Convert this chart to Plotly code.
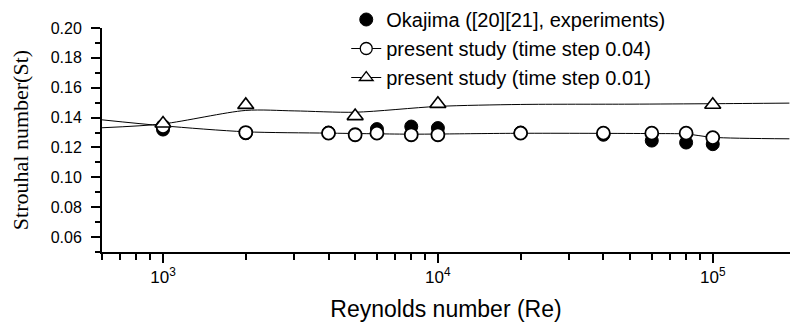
import plotly.graph_objects as go

# Okajima experiments (filled circles)
exp_re = [1000, 2000, 4000, 6000, 8000, 10000, 20000, 40000, 60000, 80000, 100000]
exp_st = [0.1320, 0.1295, 0.1300, 0.1323, 0.1340, 0.1330, 0.1300, 0.1285, 0.1246, 0.1233, 0.1222]

# present study, time step 0.04 (open circles)
s04_re = [1000, 2000, 4000, 5000, 6000, 8000, 10000, 20000, 40000, 60000, 80000, 100000]
s04_st = [0.1340, 0.1300, 0.1296, 0.1285, 0.1296, 0.1285, 0.1285, 0.1296, 0.1296, 0.1296, 0.1296, 0.1266]

# present study, time step 0.01 (open triangles)
s01_re = [1000, 2000, 5000, 10000, 100000]
s01_st = [0.1360, 0.1485, 0.1410, 0.1492, 0.1486]

# fitted curves
fit04_re = [600, 1000, 2000, 4000, 8000, 10000, 20000, 60000, 80000, 100000, 190000]
fit04_st = [0.1385, 0.1345, 0.1305, 0.1296, 0.1289, 0.1290, 0.1295, 0.1293, 0.1290, 0.1268, 0.1258]
fit01_re = [600, 1000, 2000, 3000, 5000, 10000, 20000, 50000, 100000, 190000]
fit01_st = [0.1332, 0.1358, 0.1448, 0.1445, 0.1436, 0.1475, 0.1488, 0.1490, 0.1493, 0.1497]

x_tickvals = [1e3, 1e4, 1e5]
x_ticktext = ["10<sup>3</sup>", "10<sup>4</sup>", "10<sup>5</sup>"]
y_tickvals = [0.06, 0.08, 0.10, 0.12, 0.14, 0.16, 0.18, 0.20]

fig = go.Figure()

fig.add_trace(go.Scatter(x=fit04_re, y=fit04_st, mode="lines",
                         line=dict(color="black", width=1, shape="spline", smoothing=0.8),
                         showlegend=False, hoverinfo="skip"))
fig.add_trace(go.Scatter(x=fit01_re, y=fit01_st, mode="lines",
                         line=dict(color="black", width=1, shape="spline", smoothing=0.8),
                         showlegend=False, hoverinfo="skip"))

fig.add_trace(go.Scatter(x=exp_re, y=exp_st, mode="markers",
                         name="Okajima ([20][21], experiments)",
                         marker=dict(symbol="circle", size=13, color="black",
                                     line=dict(color="black", width=1))))
fig.add_trace(go.Scatter(x=s04_re, y=s04_st, mode="markers", showlegend=False,
                         marker=dict(symbol="circle", size=13, color="white",
                                     line=dict(color="black", width=1.8))))
fig.add_trace(go.Scatter(x=s01_re, y=s01_st, mode="markers", showlegend=False,
                         marker=dict(symbol="triangle-up", size=14, color="white",
                                     line=dict(color="black", width=1.6))))

# legend entries
fig.add_trace(go.Scatter(x=[None], y=[None], mode="lines+markers",
                         name="present study (time step 0.04)",
                         line=dict(color="black", width=1),
                         marker=dict(symbol="circle", size=12, color="white",
                                     line=dict(color="black", width=1.3))))
fig.add_trace(go.Scatter(x=[None], y=[None], mode="lines+markers",
                         name="present study (time step 0.01)",
                         line=dict(color="black", width=1),
                         marker=dict(symbol="triangle-up", size=12, color="white",
                                     line=dict(color="black", width=1.3))))

fig.update_layout(
    width=790, height=323,
    margin=dict(l=102, r=0, t=28, b=71),
    paper_bgcolor="white", plot_bgcolor="white",
    font=dict(family="Liberation Sans, Arial, sans-serif", size=16, color="black"),
    legend=dict(x=0.355, y=1.125, xanchor="left", yanchor="top",
                bgcolor="rgba(0,0,0,0)", font=dict(size=20), tracegroupgap=0),
    showlegend=True,
)

fig.update_xaxes(
    type="log", range=[2.778, 5.281],
    tickvals=x_tickvals, ticktext=x_ticktext,
    ticks="outside", ticklen=9, tickwidth=1.5, tickcolor="black",
    showline=True, linecolor="black", linewidth=2,
    showgrid=False, zeroline=False,
    minor=dict(ticks="outside", ticklen=6, tickwidth=1.5, tickcolor="black",
               dtick="D1", showgrid=False),
    tickfont=dict(size=17),
    title=dict(text="Reynolds number (Re)", font=dict(size=23), standoff=14),
)
fig.update_yaxes(
    range=[0.05, 0.20],
    tickvals=y_tickvals, tickformat=".2f",
    ticks="outside", ticklen=9, tickwidth=1.5, tickcolor="black",
    ticklabelstandoff=6,
    showline=True, linecolor="black", linewidth=2,
    showgrid=False, zeroline=False,
    minor=dict(ticks="outside", ticklen=5, tickwidth=1.5, tickcolor="black",
               dtick=0.01, showgrid=False),
    tickfont=dict(size=16),
    title=dict(text="Strouhal number(St)",
               font=dict(family="Liberation Serif, Times New Roman, serif", size=22),
               standoff=16),
)

fig.write_html("out.html")
